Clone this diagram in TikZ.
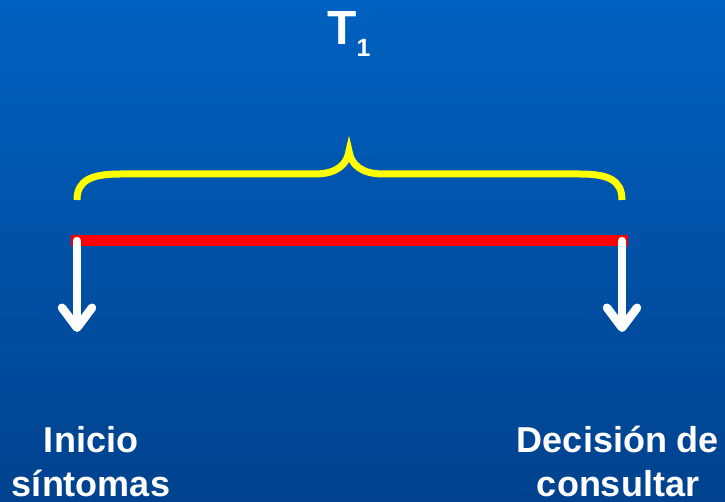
\documentclass[tikz,border=0pt]{standalone}
\usepackage{fontspec}
\setmainfont{Liberation Sans}
\usepackage{tikz}
\usetikzlibrary{arrows.meta}
\definecolor{bgtop}{RGB}{0,97,192}
\definecolor{bgbot}{RGB}{0,66,142}
\definecolor{brcyellow}{RGB}{255,255,0}
\tikzset{
  brc/.style={draw=brcyellow,line width=7pt,line cap=butt},
  redline/.style={draw=red,line width=11pt},
  downarr/.style={draw=white,line width=8.5pt,line cap=round,-{Straight Barb[round,length=20pt,width=30pt]}},
  lbl/.style={text=white,font=\fontsize{36}{44}\selectfont\bfseries,align=center,inner sep=0pt}
}
\begin{document}
\begin{tikzpicture}[x=1pt,y=-1pt]
\shade[top color=bgtop,bottom color=bgbot](0,0)rectangle(725,502);
\useasboundingbox(0,0)rectangle(725,502);
% title
\node[text=white,font=\fontsize{48}{48}\selectfont\bfseries,anchor=base west,inner sep=0pt](tone)at(327,45){T\raisebox{-12pt}{\fontsize{25}{25}\selectfont 1}};
% brace
\draw[brc](77,200)..controls(77,180)and(92,174)..(120,174)--(315,174)..controls(336,174)and(347,165)..(349,151)..controls(351,165)and(362,174)..(383,174)--(580,174)..controls(608,174)and(622,180)..(622,200);
% time line
\coordinate(lft)at(71,241);\coordinate(rgt)at(628,241);
\draw[redline](lft)--(rgt);
\coordinate(ini0)at(77,241);\coordinate(ini1)at(77,332);
\coordinate(dec0)at(622,241);\coordinate(dec1)at(622,332);
\draw[downarr](ini0)--(ini1);
\draw[downarr](dec0)--(dec1);
% labels
\node[lbl,anchor=base](ini)at(91,496){Inicio\\síntomas};
\node[lbl,anchor=base](dec)at(618,496){Decisión de\\consultar};
\end{tikzpicture}
\end{document}
